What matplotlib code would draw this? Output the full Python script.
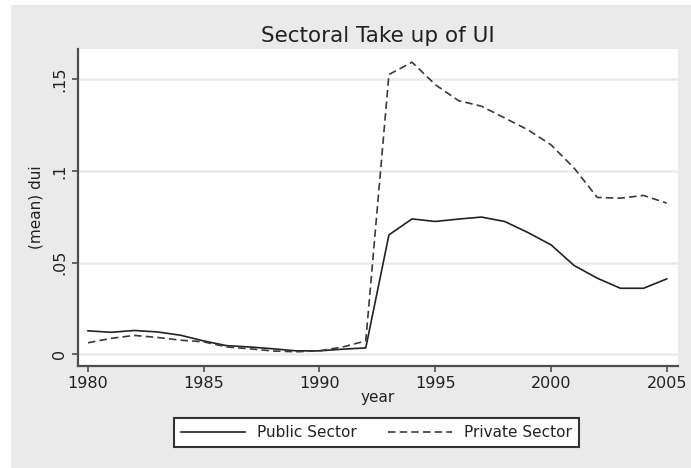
import matplotlib
matplotlib.use("Agg")
import matplotlib.pyplot as plt
from matplotlib.patches import Rectangle

years = list(range(1980, 2006))
public_sector = [0.0128, 0.0120, 0.0130, 0.0122, 0.0104, 0.0073, 0.0047, 0.0040,
                 0.0030, 0.0019, 0.0019, 0.0028, 0.0035, 0.0651, 0.0738, 0.0724,
                 0.0737, 0.0748, 0.0724, 0.0664, 0.0597, 0.0484, 0.0415, 0.0360,
                 0.0360, 0.0411]
private_sector = [0.0063, 0.0087, 0.0103, 0.0092, 0.0077, 0.0068, 0.0040, 0.0030,
                  0.0018, 0.0014, 0.0019, 0.0040, 0.0073, 0.1525, 0.1592, 0.1470,
                  0.1383, 0.1352, 0.1288, 0.1224, 0.1142, 0.1015, 0.0855, 0.0851,
                  0.0866, 0.0824]
x_ticks = [1980, 1985, 1990, 1995, 2000, 2005]
y_ticks = [0, 0.05, 0.10, 0.15]
y_tick_labels = ["0", ".05", ".1", ".15"]

W, H = 691, 468
fig = plt.figure(figsize=(W / 100, H / 100), dpi=100, facecolor="white")
bg = "#eaeaea"
fig.patches.append(Rectangle((11 / W, 0), 1 - 11 / W, 1 - 5 / H, transform=fig.transFigure,
                             facecolor=bg, edgecolor="none", zorder=-10))

left, right, top, bottom = 77.7, 677.7, 49, 365.7
ax = fig.add_axes([left / W, 1 - bottom / H, (right - left) / W, (bottom - top) / H])
ax.set_facecolor("white")

ax.plot(years, public_sector, color="#222222", lw=1.2, label="Public Sector")
ax.plot(years, private_sector, color="#3a3a3a", lw=1.2, ls=(0, (4.5, 2.5)), label="Private Sector")

ax.set_xlim(1979.555, 2005.475)
ax.set_ylim(-0.0062, 0.1664)
ax.set_xticks(x_ticks)
ax.set_yticks(y_ticks)
ax.set_yticklabels(y_tick_labels, rotation=90, va="center")
for t in y_ticks:
    ax.axhline(t, color="#eaeaea", lw=1.8, zorder=0)

for s in ["top", "right"]:
    ax.spines[s].set_visible(False)
for s in ["left", "bottom"]:
    ax.spines[s].set_color("#4d4d4d")
    ax.spines[s].set_linewidth(1.6)
ax.tick_params(axis="both", colors="#4d4d4d", labelcolor="#222222", labelsize=11.5,
               length=4, width=1.2)

ax.set_xlabel("year", fontsize=11, color="#222222", labelpad=-1)
ax.set_ylabel("(mean) dui", fontsize=11, color="#222222", labelpad=6)
ax.set_title("Sectoral Take up of UI", fontsize=15.5, color="#222222", pad=5)

leg = fig.legend(loc="center", bbox_to_anchor=(376.5 / W, 1 - 432.5 / H), ncol=2,
                 fancybox=False, framealpha=1, edgecolor="#333333", fontsize=11,
                 handlelength=4.2, columnspacing=2.0, borderpad=0.45, handletextpad=0.8)
leg.get_frame().set_linewidth(1.5)
for txt in leg.get_texts():
    txt.set_color("#222222")

fig.savefig("out.png", dpi=100, facecolor="white")
